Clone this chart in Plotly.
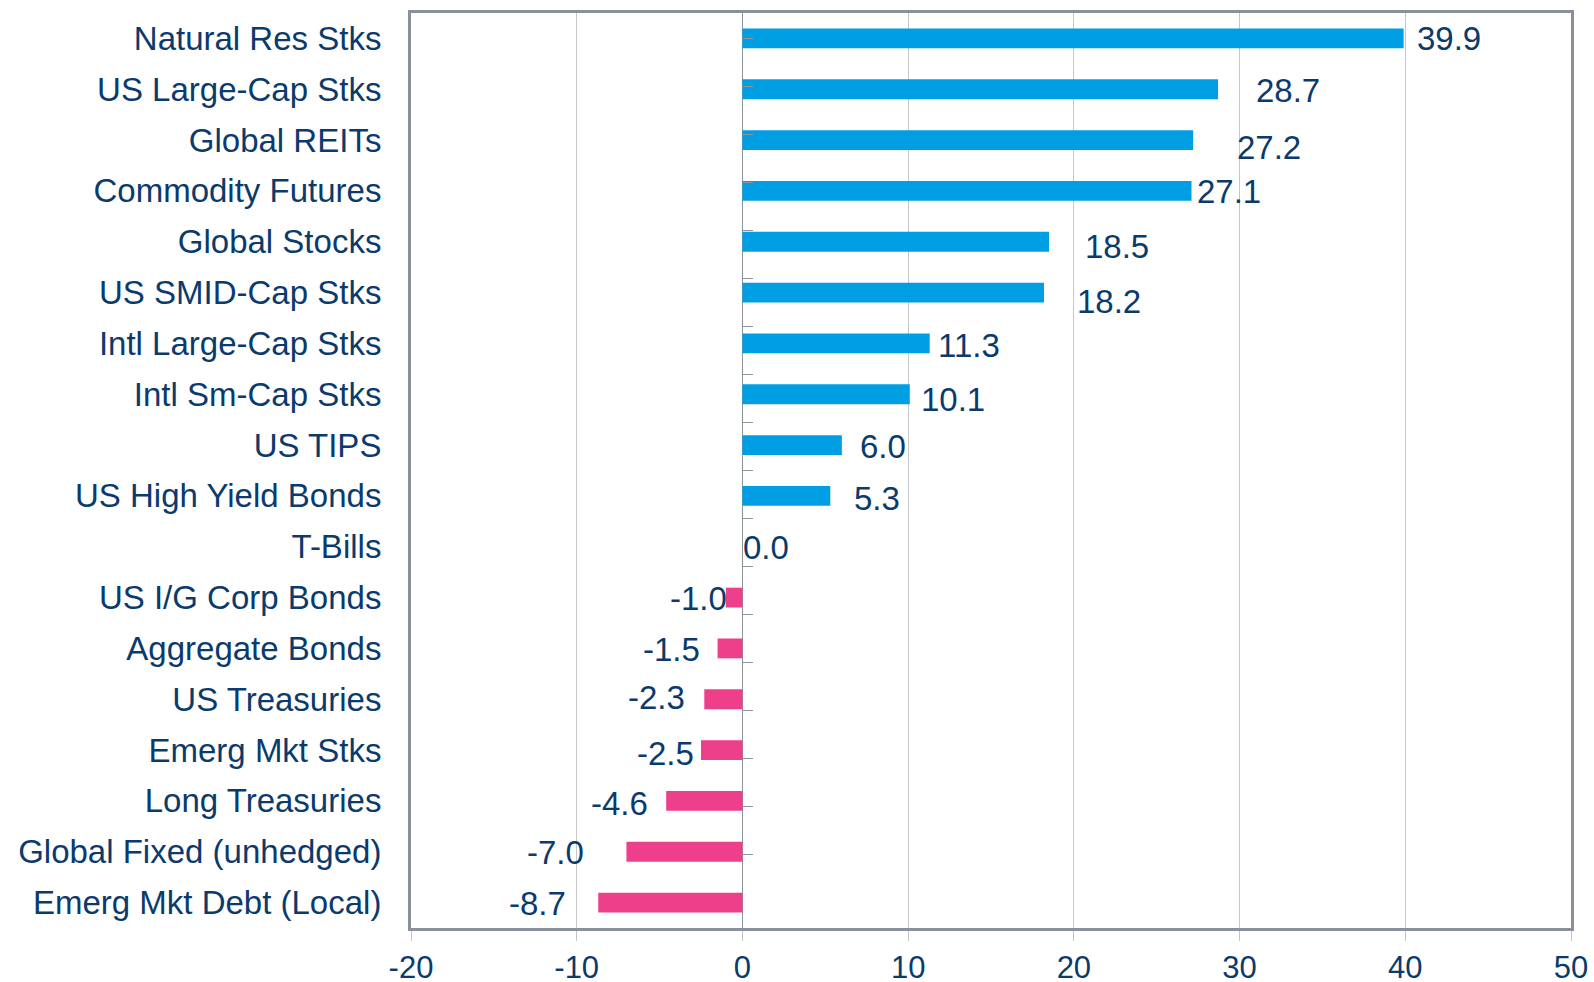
import plotly.graph_objects as go

categories = [
    "Natural Res Stks", "US Large-Cap Stks", "Global REITs", "Commodity Futures",
    "Global Stocks", "US SMID-Cap Stks", "Intl Large-Cap Stks", "Intl Sm-Cap Stks",
    "US TIPS", "US High Yield Bonds", "T-Bills", "US I/G Corp Bonds",
    "Aggregate Bonds", "US Treasuries", "Emerg Mkt Stks", "Long Treasuries",
    "Global Fixed (unhedged)", "Emerg Mkt Debt (Local)",
]
values = [39.9, 28.7, 27.2, 27.1, 18.5, 18.2, 11.3, 10.1, 6.0, 5.3, 0.0,
          -1.0, -1.5, -2.3, -2.5, -4.6, -7.0, -8.7]
x_ticks = [-20, -10, 0, 10, 20, 30, 40, 50]

# label offsets (px) to mimic the hand-placed labels of the original
label_dx = [12, 37, 43, 4, 35, 32, 7, 10, 17, 23, 0,
            2, -17, -18, -6, -17, -41, -31]
label_dy = [0, -1, -7, -1, -5, -9, -2, -5, -1, -3, -1,
            -1, -1, 2, -3, -3, -1, -1]

BLUE = "#009FE3"
PINK = "#EE3F8A"
NAVY = "#0B3A6C"
FONT = "Liberation Sans, Arial, sans-serif"
FS = 33

colors = [BLUE if v >= 0 else PINK for v in values]

fig = go.Figure()
fig.add_trace(go.Bar(
    y=categories, x=values, orientation="h",
    marker=dict(color=colors, line=dict(width=0)),
    width=0.39, hoverinfo="x+y",
))
# invisible trace to carry the category ticks drawn on the zero line
fig.add_trace(go.Scatter(
    y=categories, x=[0] * len(categories), yaxis="y2",
    mode="markers", marker=dict(opacity=0), hoverinfo="skip", showlegend=False,
))

xmin, xmax = x_ticks[0], x_ticks[-1]
zero_pos = (0 - xmin) / (xmax - xmin)

annotations = []
for c, v, dx, dy in zip(categories, values, label_dx, label_dy):
    annotations.append(dict(
        x=v, y=c, text=f"{v:.1f}", showarrow=False,
        xanchor="left" if v >= 0 else "right", yanchor="middle",
        xshift=dx, yshift=dy, borderpad=0,
        font=dict(family=FONT, size=FS, color=NAVY),
    ))

fig.update_layout(
    width=1594, height=982,
    margin=dict(l=411, r=23, t=13, b=54, autoexpand=False),
    plot_bgcolor="white", paper_bgcolor="white",
    showlegend=False, bargap=0.6,
    font=dict(family=FONT, size=FS, color=NAVY),
    annotations=annotations,
    xaxis=dict(
        range=[xmin, xmax], tickvals=x_ticks, ticktext=[str(t) for t in x_ticks],
        showgrid=True, gridcolor="#C4C6C9", gridwidth=1,
        zeroline=True, zerolinecolor="#8C939B", zerolinewidth=1,
        showline=True, linecolor="#8A9099", linewidth=3, mirror=True,
        ticks="outside", ticklen=10, tickcolor="#C4C6C9", tickwidth=1,
        ticklabelstandoff=0,
        tickfont=dict(family=FONT, size=31, color=NAVY),
        fixedrange=True,
    ),
    yaxis=dict(
        categoryorder="array", categoryarray=categories, autorange="reversed",
        showgrid=False, zeroline=False, ticks="",
        showline=True, linecolor="#8A9099", linewidth=3, mirror=True,
        ticklabelstandoff=20,
        tickfont=dict(family=FONT, size=FS, color=NAVY),
        fixedrange=True,
    ),
    yaxis2=dict(
        overlaying="y", anchor="free", position=zero_pos, side="right",
        categoryorder="array", categoryarray=categories, autorange="reversed",
        showgrid=False, zeroline=False, showline=False, showticklabels=False,
        ticks="outside", tickson="boundaries", ticklen=10, tickwidth=1,
        tickcolor="#8C939B", fixedrange=True,
    ),
)

fig.write_html(
    "out.html",
    config={"displayModeBar": False},
    post_script="document.body.style.margin='0';document.body.style.overflow='hidden';",
)
